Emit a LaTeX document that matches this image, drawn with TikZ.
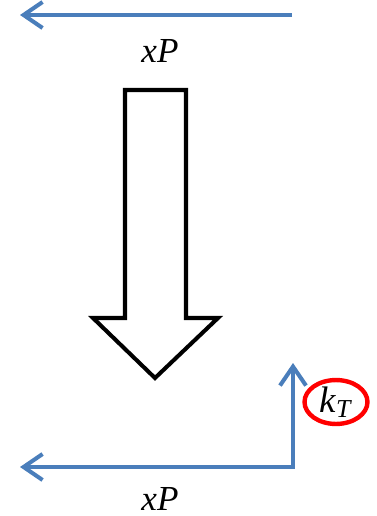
\documentclass[tikz,border=0pt]{standalone}
\usepackage{fontspec}
\setmainfont{Liberation Serif}
\usetikzlibrary{arrows.meta, positioning, shapes.geometric}
\definecolor{forceblue}{RGB}{74,126,187}
\tikzset{
  forcearr/.style={draw=forceblue, line width=2.3pt, line join=miter},
  barb/.tip={Straight Barb[length=3.8mm, width=5.2mm, line width=2.3pt]},
  forcelbl/.style={font=\fontsize{20}{24}\selectfont\itshape, inner sep=0pt},
  ratebox/.style={ellipse, draw=red, line width=2.5pt, minimum width=1.26cm, minimum height=0.84cm, inner sep=0pt},
  blockarr/.style={draw=black, line width=2.3pt, line join=miter, fill=white},
}

\begin{document}
\begin{tikzpicture}[x=0.02cm, y=-0.02cm]
\useasboundingbox (0,0) rectangle (377,516);
% top force
\coordinate (topr) at (292,15);
\coordinate (topl) at (20,15);
\draw[forcearr, -barb] (topr) -- (topl);
\node[forcelbl] (xptop) at (160,51) {xP};
% transfer arrow
\draw[blockarr] (125,90) -- (186,90) -- (186,318) -- (218,318) -- (155,378)
  -- (93,318) -- (125,318) -- cycle;
% bottom forces
\coordinate (corner) at (293,467);
\coordinate (botl) at (20,467);
\coordinate (upend) at (293,363);
\draw[forcearr, barb-barb] (upend) -- (corner) -- (botl);
\node[forcelbl] (xpbot) at (160,499) {xP};
\node[ratebox, font=\fontsize{21}{24}\selectfont] (kt) at (336,402) {\textit{k}\textsubscript{\textit{T}}};
\end{tikzpicture}
\end{document}
